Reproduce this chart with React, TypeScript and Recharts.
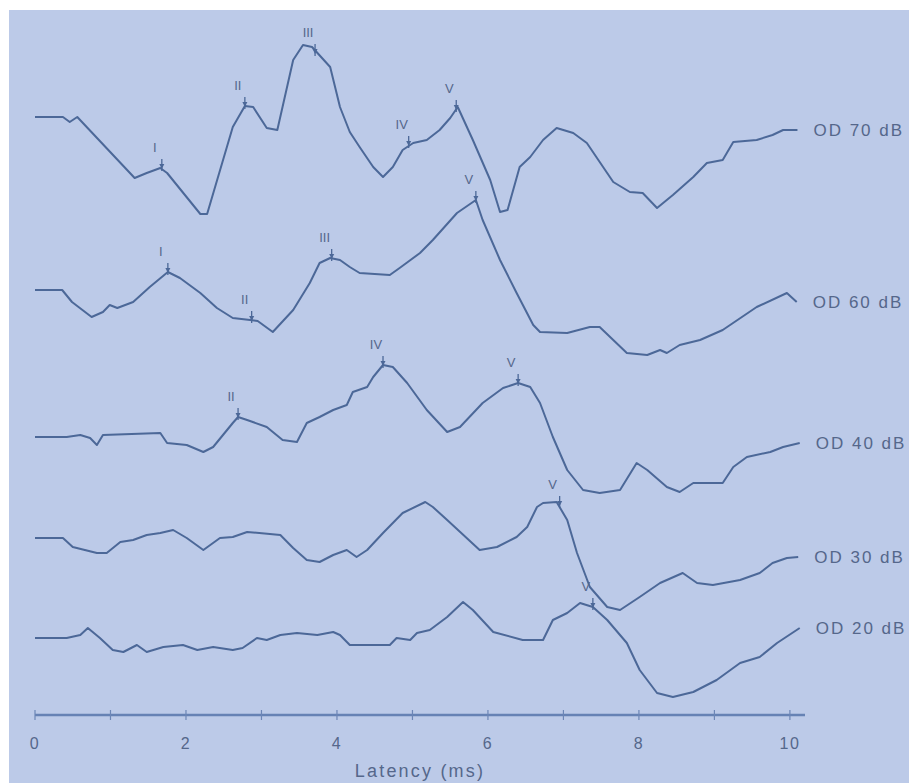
import { LineChart, Line, XAxis, YAxis, ReferenceDot, Label } from 'recharts';

// latency (ms) and amplitude (relative to each trace's baseline)
const LAT_70 = [0, 0.37, 0.46, 0.56, 1.32, 1.48, 1.66, 1.75, 2.19, 2.28, 2.62, 2.78, 2.89, 3.07, 3.21, 3.42, 3.55, 3.67, 3.91, 4.04, 4.17, 4.3, 4.48, 4.61, 4.74, 4.87, 5.01, 5.19, 5.36, 5.5, 5.6, 5.8, 6.03, 6.16, 6.26, 6.42, 6.56, 6.73, 6.91, 7.13, 7.31, 7.66, 7.88, 8.05, 8.24, 8.45, 8.72, 8.9, 9.11, 9.25, 9.56, 9.77, 9.91, 10.1];
const AMP_70 = [0, 0, -0.1, 0, -1.22, -1.12, -1.02, -1.12, -1.94, -1.94, -0.2, 0.22, 0.2, -0.22, -0.26, 1.14, 1.44, 1.4, 1.0, 0.2, -0.3, -0.6, -1.0, -1.2, -1.0, -0.66, -0.52, -0.46, -0.26, -0.02, 0.2, -0.46, -1.26, -1.9, -1.86, -1.0, -0.8, -0.46, -0.22, -0.32, -0.52, -1.3, -1.5, -1.52, -1.82, -1.56, -1.2, -0.92, -0.86, -0.5, -0.46, -0.36, -0.26, -0.26];

const LAT_60 = [0, 0.36, 0.49, 0.75, 0.9, 0.99, 1.09, 1.3, 1.52, 1.76, 1.92, 2.19, 2.41, 2.62, 2.85, 2.95, 3.15, 3.42, 3.64, 3.77, 3.91, 4.04, 4.17, 4.3, 4.7, 4.83, 5.1, 5.27, 5.59, 5.84, 5.93, 6.16, 6.38, 6.6, 6.69, 7.05, 7.35, 7.48, 7.84, 8.11, 8.28, 8.37, 8.54, 8.81, 9.11, 9.56, 9.96, 10.09];
const AMP_60 = [0, 0, -0.24, -0.54, -0.44, -0.3, -0.36, -0.24, 0.06, 0.36, 0.24, -0.06, -0.36, -0.56, -0.6, -0.62, -0.84, -0.4, 0.14, 0.54, 0.64, 0.6, 0.46, 0.34, 0.3, 0.44, 0.74, 1.0, 1.54, 1.8, 1.4, 0.6, -0.06, -0.7, -0.84, -0.86, -0.74, -0.74, -1.26, -1.3, -1.2, -1.26, -1.1, -1.0, -0.8, -0.34, -0.06, -0.24];

const LAT_40 = [0, 0.42, 0.6, 0.73, 0.82, 0.9, 1.66, 1.75, 2.01, 2.23, 2.36, 2.62, 2.69, 2.81, 3.07, 3.28, 3.47, 3.6, 3.77, 3.95, 4.13, 4.21, 4.4, 4.48, 4.61, 4.74, 4.93, 5.19, 5.46, 5.63, 5.93, 6.2, 6.4, 6.56, 6.69, 6.86, 7.05, 7.26, 7.48, 7.75, 7.97, 8.11, 8.37, 8.54, 8.72, 9.11, 9.25, 9.43, 9.74, 9.91, 10.13];
const AMP_40 = [0, 0, 0.04, -0.02, -0.16, 0.04, 0.08, -0.12, -0.16, -0.3, -0.2, 0.28, 0.4, 0.34, 0.2, -0.06, -0.1, 0.28, 0.4, 0.54, 0.64, 0.9, 1.0, 1.2, 1.44, 1.4, 1.08, 0.54, 0.1, 0.2, 0.68, 0.98, 1.08, 1.0, 0.68, 0, -0.66, -1.06, -1.12, -1.06, -0.52, -0.66, -1.0, -1.1, -0.92, -0.92, -0.6, -0.4, -0.3, -0.2, -0.12];

const LAT_30 = [0, 0.37, 0.5, 0.82, 0.95, 1.13, 1.3, 1.48, 1.66, 1.83, 2.01, 2.23, 2.45, 2.62, 2.81, 3.25, 3.42, 3.6, 3.77, 3.95, 4.13, 4.26, 4.4, 4.61, 4.87, 5.17, 5.27, 5.46, 5.89, 6.12, 6.38, 6.52, 6.65, 6.73, 6.91, 7.05, 7.18, 7.35, 7.58, 7.75, 8.01, 8.28, 8.58, 8.77, 8.98, 9.34, 9.6, 9.77, 9.96, 10.11];
const AMP_30 = [0, 0, -0.18, -0.3, -0.3, -0.08, -0.04, 0.06, 0.1, 0.16, 0, -0.24, 0, 0.02, 0.12, 0.06, -0.2, -0.44, -0.48, -0.34, -0.24, -0.38, -0.24, 0.1, 0.5, 0.72, 0.62, 0.36, -0.24, -0.18, 0.02, 0.22, 0.62, 0.7, 0.72, 0.36, -0.3, -0.98, -1.38, -1.44, -1.18, -0.9, -0.7, -0.9, -0.94, -0.84, -0.7, -0.5, -0.4, -0.38];

const LAT_20 = [0, 0.42, 0.6, 0.7, 0.86, 1.03, 1.17, 1.35, 1.48, 1.7, 1.96, 2.15, 2.36, 2.62, 2.75, 2.94, 3.07, 3.25, 3.47, 3.74, 3.95, 4.04, 4.17, 4.7, 4.79, 4.97, 5.06, 5.23, 5.46, 5.67, 5.8, 6.07, 6.46, 6.73, 6.86, 7.05, 7.22, 7.39, 7.58, 7.84, 8.01, 8.24, 8.45, 8.72, 9.03, 9.34, 9.6, 9.83, 10.13];
const AMP_20 = [0, 0, 0.06, 0.2, 0, -0.24, -0.28, -0.14, -0.28, -0.18, -0.14, -0.24, -0.18, -0.24, -0.2, 0, -0.04, 0.06, 0.1, 0.06, 0.12, 0.06, -0.14, -0.14, 0, -0.04, 0.1, 0.16, 0.42, 0.72, 0.56, 0.12, -0.04, -0.04, 0.36, 0.5, 0.7, 0.62, 0.36, -0.1, -0.64, -1.1, -1.18, -1.08, -0.84, -0.5, -0.38, -0.1, 0.2];

const LEVELS = ['OD 70 dB', 'OD 60 dB', 'OD 40 dB', 'OD 30 dB', 'OD 20 dB'];
const OFFSETS = [11.96, 8.5, 5.56, 3.54, 1.54];

// labelled peaks: [latency, amplitude, wave]
const PEAKS_70 = [[1.68, -1.02, 'I'], [2.78, 0.22, 'II'], [3.71, 1.28, 'III'], [4.95, -0.56, 'IV'], [5.58, 0.16, 'V']];
const PEAKS_60 = [[1.76, 0.36, 'I'], [2.87, -0.6, 'II'], [3.93, 0.64, 'III'], [5.84, 1.8, 'V']];
const PEAKS_40 = [[2.69, 0.4, 'II'], [4.61, 1.44, 'IV'], [6.4, 1.08, 'V']];
const PEAKS_30 = [[6.95, 0.66, 'V']];
const PEAKS_20 = [[7.39, 0.62, 'V']];

const X_TICKS = [0, 1, 2, 3, 4, 5, 6, 7, 8, 9, 10];

const TRACE = '#4c6898';
const TEXT = '#55678b';
const FONT = '"Liberation Sans", Arial, sans-serif';

const traces = [
  [LAT_70, AMP_70, PEAKS_70],
  [LAT_60, AMP_60, PEAKS_60],
  [LAT_40, AMP_40, PEAKS_40],
  [LAT_30, AMP_30, PEAKS_30],
  [LAT_20, AMP_20, PEAKS_20],
].map(([lat, amp, peaks]: any, i) => ({
  name: LEVELS[i],
  offset: OFFSETS[i],
  points: lat.map((x: number, j: number) => ({ x, y: OFFSETS[i] + amp[j] })),
  peaks,
}));

function TimeTick({ x, y, payload }: any) {
  return (
    <g>
      <line x1={x} x2={x} y1={y - 5} y2={y + 5} stroke="#6c86b6" strokeWidth={1.2} />
      {payload.value % 2 === 0 && (
        <text x={x} y={y + 34} textAnchor="middle" fontSize={16} letterSpacing={1.5} fill={TEXT} fontFamily={FONT}>
          {payload.value}
        </text>
      )}
    </g>
  );
}

const peakShape = (name: string) => ({ cx, cy }: any) => (
  <g>
    <line x1={cx} x2={cx} y1={cy - 9} y2={cy + 3} stroke={TRACE} strokeWidth={1.3} />
    <path d={`M${cx - 2.5},${cy - 4} L${cx + 2.5},${cy - 4} L${cx},${cy + 1} Z`} fill={TRACE} />
    <text x={cx - 7} y={cy - 16} textAnchor="middle" fontSize={13} fill={TEXT} fontFamily={FONT}>
      {name}
    </text>
  </g>
);

const levelShape = (name: string) => ({ cx, cy }: any) => (
  <text x={cx + 16} y={cy + 6} fontSize={17} letterSpacing={2} fill={TEXT} fontFamily={FONT}>
    {name}
  </text>
);

export default function App() {
  return (
    <div style={{ position: 'absolute', left: 0, top: 0, width: 909, height: 783, background: '#fff' }}>
      <div style={{ position: 'absolute', left: 9, top: 10, right: 0, bottom: 0, background: '#bccae8' }} />
      <div style={{ position: 'absolute', left: 0, top: 0 }}>
        <LineChart width={909} height={783} margin={{ top: 15, right: 104, bottom: 8, left: 35 }}>
          <XAxis
            dataKey="x"
            type="number"
            domain={[0, 10.2]}
            ticks={X_TICKS}
            interval={0}
            tick={<TimeTick />}
            tickSize={0}
            tickMargin={0}
            tickLine={false}
            axisLine={{ stroke: '#6682b4', strokeWidth: 2.5 }}
            height={60}
          >
            <Label
              value="Latency (ms)"
              position="insideBottom"
              offset={-2}
              fontSize={18}
              letterSpacing={2.2}
              fill={TEXT}
              fontFamily={FONT}
            />
          </XAxis>
          <YAxis type="number" domain={[0, 14]} hide />
          {traces.map((t) => (
            <Line
              key={t.name}
              data={t.points}
              dataKey="y"
              type="linear"
              stroke={TRACE}
              strokeWidth={2}
              strokeLinejoin="round"
              dot={false}
              activeDot={false}
              isAnimationActive={false}
            />
          ))}
          {traces.map((t) =>
            t.peaks.map((p: any) => (
              <ReferenceDot
                key={t.name + p[2]}
                x={p[0]}
                y={t.offset + p[1]}
                ifOverflow="visible"
                shape={peakShape(p[2])}
              />
            ))
          )}
          {traces.map((t) => {
            const last = t.points[t.points.length - 1];
            return (
              <ReferenceDot key={t.name + 'lbl'} x={last.x} y={last.y} ifOverflow="visible" shape={levelShape(t.name)} />
            );
          })}
        </LineChart>
      </div>
    </div>
  );
}
